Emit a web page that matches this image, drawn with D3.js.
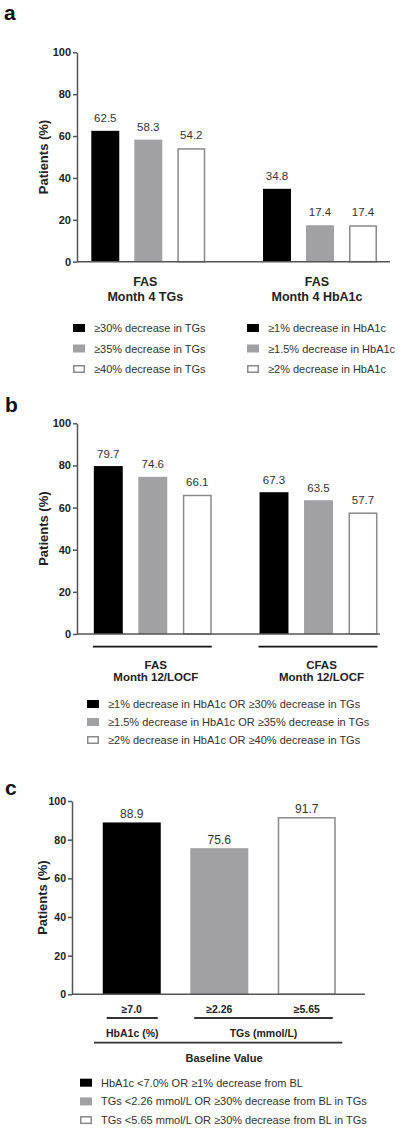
<!DOCTYPE html>
<html>
<head>
<meta charset="utf-8">
<script src="https://cdn.jsdelivr.net/npm/d3@7"></script>
<style>
  html, body { margin: 0; padding: 0; background: #fff; }
  svg { display: block; font-family: "Liberation Sans", Arial, Helvetica, sans-serif; }
</style>
</head>
<body>
<svg id="chart" width="400" height="1129"></svg>
<script>
// ---------- DATA ----------
const yTicks = [0, 20, 40, 60, 80, 100];
const seriesColors = ["#000000", "#a1a1a5", "#ffffff"];

// Panel a
const groupsA = [["FAS", "Month 4 TGs"], ["FAS", "Month 4 HbA1c"]];
const valuesA = [[62.5, 58.3, 54.2], [34.8, 17.4, 17.4]];
const legendA1 = ["≥30% decrease in TGs", "≥35% decrease in TGs", "≥40% decrease in TGs"];
const legendA2 = ["≥1% decrease in HbA1c", "≥1.5% decrease in HbA1c", "≥2% decrease in HbA1c"];

// Panel b
const groupsB = [["FAS", "Month 12/LOCF"], ["CFAS", "Month 12/LOCF"]];
const valuesB = [[79.7, 74.6, 66.1], [67.3, 63.5, 57.7]];
const legendB = [
  "≥1% decrease in HbA1c OR ≥30% decrease in TGs",
  "≥1.5% decrease in HbA1c OR ≥35% decrease in TGs",
  "≥2% decrease in HbA1c OR ≥40% decrease in TGs"
];

// Panel c
const categoriesC = ["≥7.0", "≥2.26", "≥5.65"];
const valuesC = [88.9, 75.6, 91.7];
const parametersC = ["HbA1c (%)", "TGs (mmol/L)"];
const paramIndexC = [0, 1, 1];
const xTitleC = "Baseline Value";
const legendC = [
  "HbA1c <7.0% OR ≥1% decrease from BL",
  "TGs <2.26 mmol/L OR ≥30% decrease from BL in TGs",
  "TGs <5.65 mmol/L OR ≥30% decrease from BL in TGs"
];

// ---------- DRAWING ----------
const svg = d3.select("#chart");
const AXIS = "#555";
const TXT = "#333";

function panelLetter(ch, x, y) {
  svg.append("text").attr("x", x).attr("y", y)
    .attr("font-size", 21).attr("font-weight", "bold").attr("fill", "#111").text(ch);
}

function yAxis(g, y, x0, fontSize) {
  const ax = g.append("g").attr("transform", `translate(${x0},0)`)
    .call(d3.axisLeft(y).tickValues(yTicks).tickSize(4).tickSizeOuter(0).tickPadding(2));
  ax.select(".domain").attr("stroke", AXIS).attr("stroke-width", 1.5);
  ax.selectAll(".tick line").attr("stroke", AXIS).attr("stroke-width", 1.5);
  ax.selectAll(".tick text").attr("font-size", fontSize).attr("font-weight", "bold")
    .attr("fill", "#222").attr("font-family", "inherit");
}

function yTitle(x, yc) {
  svg.append("text")
    .attr("transform", `translate(${x},${yc}) rotate(-90)`)
    .attr("text-anchor", "middle").attr("font-size", 13).attr("font-weight", "bold")
    .attr("fill", "#222").text("Patients (%)");
}

function baseline(x0, x1, y0) {
  svg.append("line").attr("x1", x0).attr("x2", x1).attr("y1", y0).attr("y2", y0)
    .attr("stroke", AXIS).attr("stroke-width", 1.5);
}

function bar(x, w, y, y0, i) {
  const white = seriesColors[i] === "#ffffff";
  svg.append("rect")
    .attr("x", x + (white ? 0.75 : 0)).attr("width", w - (white ? 1.5 : 0))
    .attr("y", y + (white ? 0.75 : 0)).attr("height", Math.max(0, y0 - y - (white ? 0.75 : 0)))
    .attr("fill", seriesColors[i])
    .attr("stroke", white ? "#8a8a8a" : "none").attr("stroke-width", white ? 1.5 : 0);
}

function valueLabel(x, y, v, fs) {
  svg.append("text").attr("x", x).attr("y", y).attr("text-anchor", "middle")
    .attr("font-size", fs).attr("fill", TXT).text(v.toFixed(1));
}

function legendItem(x, y, i, label, fs) {
  const white = seriesColors[i] === "#ffffff";
  svg.append("rect").attr("x", x + (white ? 0.75 : 0)).attr("y", y - 4 + (white ? 0.75 : 0))
    .attr("width", 12 - (white ? 1.5 : 0)).attr("height", 8 - (white ? 1.5 : 0))
    .attr("fill", seriesColors[i]).attr("stroke", white ? "#8a8a8a" : "none").attr("stroke-width", 1.5);
  svg.append("text").attr("x", x + 21).attr("y", y + 4).attr("font-size", fs)
    .attr("fill", TXT).text(label);
}

// ===== Panel a =====
(function () {
  panelLetter("a", 4, 20);
  const axisX = 77, top = 52.3, bottom = 261.7;
  const y = d3.scaleLinear().domain([0, 100]).range([bottom, top]);
  const gx = d3.scalePoint().domain(d3.range(groupsA.length)).range([148.3, 320]);
  const inner = d3.scaleBand().domain([0, 1, 2]).range([-64.5, 64.5]).paddingInner(0.35).paddingOuter(0.175);
  valuesA.forEach((vals, gi) => {
    vals.forEach((v, i) => {
      const x = gx(gi) + inner(i);
      bar(x, inner.bandwidth(), y(v), bottom, i);
      valueLabel(x + inner.bandwidth() / 2, y(v) - 9, v, 11.5);
    });
    const c = gx(gi) - 3;
    groupsA[gi].forEach((t, k) => {
      svg.append("text").attr("x", c).attr("y", 285.5 + k * 15).attr("text-anchor", "middle")
        .attr("font-size", 12.5).attr("font-weight", "bold").attr("fill", "#222").text(t);
    });
  });
  baseline(axisX, 390, bottom);
  yAxis(svg.append("g"), y, axisX, 11);
  yTitle(48, (top + bottom) / 2);
  legendA1.forEach((t, i) => legendItem(73, 328 + i * 20.5, i, t, 11));
  legendA2.forEach((t, i) => legendItem(247, 328 + i * 20.5, i, t, 11));
})();

// ===== Panel b =====
(function () {
  panelLetter("b", 5, 411.5);
  const axisX = 77, top = 423.3, bottom = 634;
  const y = d3.scaleLinear().domain([0, 100]).range([bottom, top]);
  const gx = d3.scalePoint().domain(d3.range(groupsB.length)).range([152.8, 318.5]);
  const inner = d3.scaleBand().domain([0, 1, 2]).range([-66.75, 66.75]).paddingInner(0.35).paddingOuter(0.175);
  valuesB.forEach((vals, gi) => {
    vals.forEach((v, i) => {
      const x = gx(gi) + inner(i);
      bar(x, inner.bandwidth(), y(v), bottom, i);
      valueLabel(x + inner.bandwidth() / 2, y(v) - 8.5, v, 11.5);
    });
    const c = gx(gi);
    const x0 = c + inner(0) - 1, x1 = c + inner(2) + inner.bandwidth();
    svg.append("line").attr("x1", x0).attr("x2", x1).attr("y1", 646.7).attr("y2", 646.7)
      .attr("stroke", "#111").attr("stroke-width", 1.8);
    groupsB[gi].forEach((t, k) => {
      svg.append("text").attr("x", c + 3).attr("y", 668.5 + k * 12.8).attr("text-anchor", "middle")
        .attr("font-size", 11.5).attr("font-weight", "bold").attr("fill", "#222").text(t);
    });
  });
  baseline(axisX, 380, bottom);
  yAxis(svg.append("g"), y, axisX, 11);
  yTitle(48, (top + bottom) / 2);
  legendB.forEach((t, i) => legendItem(87, 704 + i * 18, i, t, 11));
})();

// ===== Panel c =====
(function () {
  panelLetter("c", 5, 795);
  const axisX = 72, top = 801, bottom = 994.3;
  const y = d3.scaleLinear().domain([0, 100]).range([bottom, top]);
  const x = d3.scaleBand().domain(categoriesC).range([88, 350.5]).paddingInner(0.337).paddingOuter(0.1685);
  categoriesC.forEach((cat, i) => {
    const v = valuesC[i];
    bar(x(cat), x.bandwidth(), y(v), bottom, i);
    valueLabel(x(cat) + x.bandwidth() / 2, y(v) - 4.5, v, 12);
    svg.append("text").attr("x", x(cat) + x.bandwidth() / 2).attr("y", 1013)
      .attr("text-anchor", "middle").attr("font-size", 10.5).attr("font-weight", "bold")
      .attr("fill", "#222").text(cat);
  });
  parametersC.forEach((p, pi) => {
    const cats = categoriesC.filter((c, i) => paramIndexC[i] === pi);
    const x0 = x(cats[0]) + 4, x1 = x(cats[cats.length - 1]) + x.bandwidth() - 3;
    svg.append("line").attr("x1", x0).attr("x2", x1).attr("y1", 1018).attr("y2", 1018)
      .attr("stroke", "#333").attr("stroke-width", 1.8);
    svg.append("text").attr("x", (x0 + x1) / 2).attr("y", 1037).attr("text-anchor", "middle")
      .attr("font-size", 10.5).attr("font-weight", "bold").attr("fill", "#222").text(p);
  });
  svg.append("line").attr("x1", 94).attr("x2", 342.3).attr("y1", 1042.7).attr("y2", 1042.7)
    .attr("stroke", "#333").attr("stroke-width", 1.8);
  svg.append("text").attr("x", 224).attr("y", 1062).attr("text-anchor", "middle")
    .attr("font-size", 11).attr("font-weight", "bold").attr("fill", "#222").text(xTitleC);
  baseline(axisX, 365, bottom);
  yAxis(svg.append("g"), y, axisX, 10.5);
  yTitle(47, (top + bottom) / 2);
  legendC.forEach((t, i) => legendItem(80, 1082.7 + i * 18.7, i, t, 11));
})();
</script>
</body>
</html>
